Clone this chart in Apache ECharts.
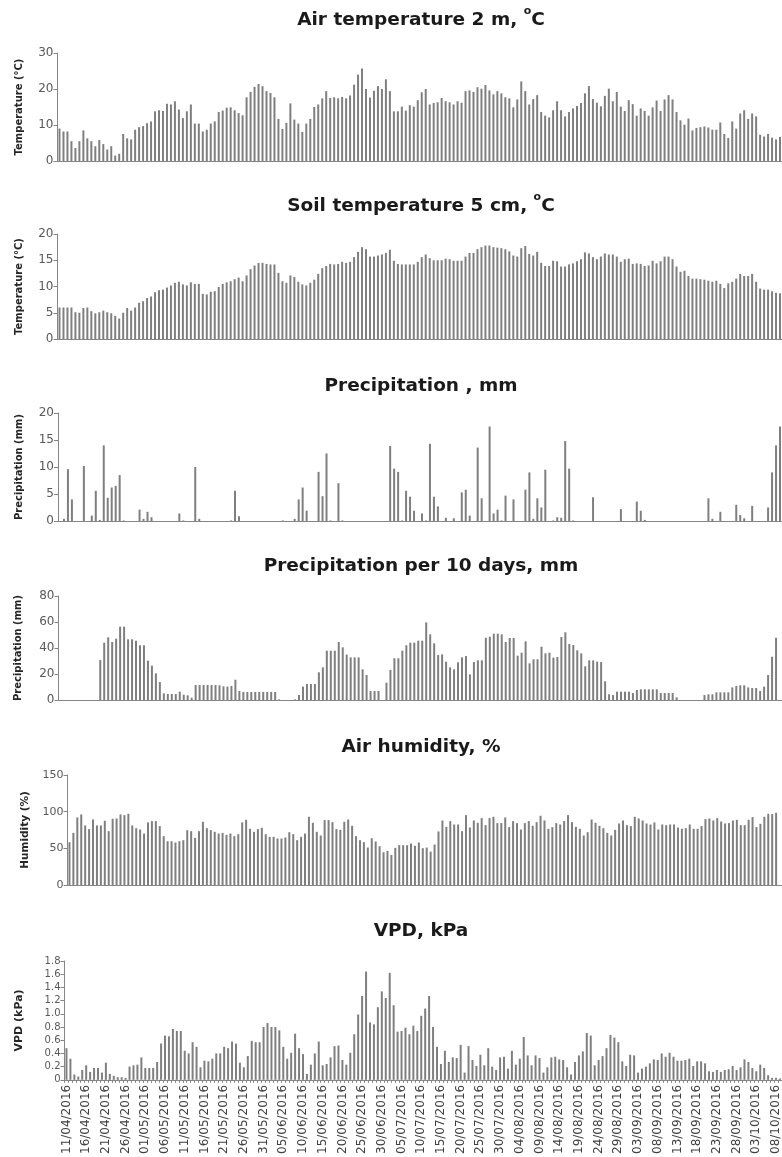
<!DOCTYPE html>
<html>

<head>
    <meta charset="utf-8" />
    <title>Weather 2016</title>
    <script src="https://cdn.jsdelivr.net/npm/echarts@6.0.0/dist/echarts.min.js"></script>
    <style>
        body { margin: 0; background: #ffffff; }
    </style>
</head>

<body>
    <div id="main" style="width: 782px; height: 1157px"></div>
    <script type="text/javascript">
        // days 11/04/2016 .. 09/10/2016
        var days = [];
        for (var d = 0; d < 182; d++) {
            var dt = new Date(2016, 3, 11 + d);
            var dd = ("0" + dt.getDate()).slice(-2);
            var mm = ("0" + (dt.getMonth() + 1)).slice(-2);
            days.push(dd + "/" + mm + "/" + dt.getFullYear());
        }

        var airTemp = [
            9.0, 8.2, 8.2, 5.5, 3.6, 5.5, 8.5, 6.3, 5.5, 4.1,
            5.8, 4.7, 3.2, 4.1, 1.5, 2.0, 7.5, 6.3, 6.0, 8.7,
            9.4, 9.7, 10.5, 11.0, 13.8, 14.1, 13.9, 15.9, 15.7, 16.6,
            14.3, 11.9, 13.8, 15.7, 10.4, 10.4, 8.2, 8.7, 10.4, 11.0,
            13.6, 14.0, 14.8, 14.9, 14.1, 13.3, 12.7, 17.7, 19.2, 20.6,
            21.4, 20.8, 19.4, 18.9, 17.7, 11.7, 8.9, 10.6, 16.0, 11.5,
            10.4, 8.1, 10.4, 11.7, 15.0, 15.7, 17.4, 19.4, 17.5, 17.7,
            17.4, 17.8, 17.4, 18.2, 21.2, 24.0, 25.7, 20.0, 17.6, 19.5,
            20.8, 20.0, 22.7, 19.4, 13.8, 13.8, 15.1, 14.0, 15.5, 15.1,
            16.9, 19.1, 20.0, 15.7, 16.1, 16.3, 17.5, 16.6, 16.3, 15.7,
            16.6, 16.2, 19.4, 19.6, 19.2, 20.5, 20.1, 21.1, 19.6, 18.5,
            19.4, 18.8, 17.7, 17.4, 14.9, 17.1, 22.1, 19.4, 15.7, 17.2,
            18.3, 13.6, 12.6, 12.1, 14.1, 16.6, 14.1, 12.4, 13.6, 14.6,
            15.3, 16.1, 18.8, 20.8, 17.2, 16.2, 15.2, 18.1, 20.1, 16.6,
            19.2, 15.1, 13.9, 16.9, 15.8, 12.6, 14.6, 13.9, 12.6, 14.9,
            16.8, 13.9, 17.1, 18.3, 17.1, 13.6, 11.3, 10.1, 11.8, 8.5,
            9.2, 9.4, 9.6, 9.3, 8.7, 8.7, 10.7, 7.5, 6.4, 11.0,
            9.0, 13.2, 14.1, 11.7, 13.2, 12.4, 7.3, 6.8, 7.5, 6.5,
            6.0, 6.7
        ];

        var soilTemp = [
            6.0, 6.0, 6.0, 6.0, 5.1, 5.0, 5.9, 6.0, 5.3, 4.9,
            5.1, 5.4, 5.1, 4.9, 4.4, 3.9, 5.0, 5.9, 5.4, 6.0,
            6.9, 7.2, 7.8, 8.1, 8.9, 9.3, 9.4, 9.8, 10.2, 10.7,
            10.9, 10.4, 10.2, 10.8, 10.5, 10.5, 8.6, 8.5, 9.0, 9.1,
            9.9, 10.5, 10.8, 11.0, 11.4, 11.7, 11.0, 12.1, 13.3, 14.0,
            14.5, 14.5, 14.3, 14.2, 14.2, 12.6, 11.0, 10.7, 12.1, 11.8,
            10.9, 10.4, 10.2, 10.7, 11.3, 12.4, 13.5, 13.9, 14.3, 14.2,
            14.3, 14.7, 14.5, 14.7, 15.6, 16.6, 17.5, 17.1, 15.7, 15.7,
            15.9, 16.1, 16.4, 17.0, 14.9, 14.3, 14.2, 14.2, 14.2, 14.2,
            14.7, 15.6, 16.1, 15.4, 15.0, 15.0, 15.0, 15.3, 15.2, 14.9,
            14.9, 14.9, 15.7, 16.4, 16.4, 17.1, 17.5, 17.8, 17.8, 17.5,
            17.4, 17.3, 17.1, 16.7, 15.9, 15.7, 17.3, 17.7, 16.2, 15.9,
            16.6, 14.5, 13.9, 13.9, 14.9, 14.8, 13.8, 13.8, 14.2, 14.4,
            14.8, 15.2, 16.5, 16.3, 15.6, 15.2, 15.7, 16.3, 16.1, 16.1,
            15.7, 14.7, 15.2, 15.3, 14.3, 14.4, 14.3, 13.9, 14.0, 14.9,
            14.4, 14.8, 15.7, 15.7, 15.2, 13.8, 12.8, 13.0, 12.0, 11.5,
            11.5, 11.4, 11.3, 11.1, 10.9, 11.1, 10.5, 9.7, 10.6, 10.9,
            11.5, 12.4, 12.0, 12.0, 12.4, 10.9, 9.6, 9.4, 9.4, 9.1,
            8.8, 8.7
        ];

        var precipDaily = [
            0, 0.4, 9.6, 4.0, 0, 0, 10.2, 0, 1.0, 5.6,
            0.2, 14.0, 4.3, 6.2, 6.5, 8.5, 0.1, 0, 0, 0,
            2.1, 0.4, 1.7, 0.7, 0, 0, 0, 0, 0, 0,
            1.4, 0.1, 0, 0, 10.0, 0.4, 0, 0, 0, 0,
            0, 0, 0, 0.1, 5.6, 0.9, 0, 0, 0, 0,
            0, 0, 0, 0, 0, 0, 0.1, 0, 0, 0.4,
            4.0, 6.2, 1.9, 0, 0, 9.1, 4.6, 12.5, 0.1, 0,
            7.0, 0.1, 0, 0, 0, 0, 0, 0, 0, 0,
            0, 0, 0, 13.9, 9.7, 9.1, 0.1, 5.6, 4.5, 1.9,
            0, 1.4, 0.1, 14.3, 4.5, 2.7, 0, 0.6, 0, 0.5,
            0, 5.3, 5.8, 1.0, 0, 13.6, 4.2, 0, 17.5, 1.4,
            2.1, 0.1, 4.7, 0, 4.0, 0, 0, 5.8, 9.0, 0.4,
            4.2, 2.5, 9.5, 0, 0.1, 0.7, 0.6, 14.8, 9.7, 0.1,
            0, 0, 0, 0, 4.4, 0, 0, 0, 0, 0,
            0, 2.2, 0, 0, 0, 3.6, 1.9, 0.2, 0, 0,
            0, 0, 0, 0, 0, 0, 0, 0, 0, 0,
            0, 0, 0, 4.2, 0.4, 0, 1.7, 0, 0, 0,
            3.0, 1.1, 0.5, 0, 2.8, 0, 0, 0, 2.5, 9.0,
            14.0, 17.5
        ];

        var precip10 = [
            0, 0, 0, 0, 0, 0, 0, 0, 0, 0,
            30.8, 44.1, 48.2, 44.6, 47.2, 56.4, 56.4, 46.7, 46.7, 45.6,
            42.1, 42.1, 30.3, 26.4, 20.5, 13.8, 5.1, 4.6, 4.6, 4.6,
            6.4, 4.1, 3.6, 1.8, 11.5, 11.5, 11.5, 11.5, 11.5, 11.5,
            11.3, 10.5, 10.3, 10.8, 15.6, 6.9, 6.2, 6.2, 6.2, 6.2,
            6.2, 6.2, 6.2, 6.2, 6.2, 0.5, 0, 0, 0, 0.5,
            3.8, 10.3, 12.3, 12.3, 12.3, 21.3, 25.1, 37.9, 37.9, 37.9,
            44.6, 40.5, 34.9, 32.8, 32.8, 32.8, 23.6, 19.2, 6.9, 6.9,
            6.9, 0, 13.3, 23.1, 32.1, 32.1, 37.9, 42.1, 44.1, 44.1,
            45.6, 45.6, 59.7, 50.5, 43.6, 34.6, 35.1, 29.5, 25.1, 23.6,
            29.0, 32.8, 33.8, 19.7, 29.2, 30.5, 30.5, 47.9, 48.7, 51.0,
            51.0, 50.5, 44.6, 47.7, 47.7, 34.1, 36.4, 45.1, 28.2, 31.3,
            31.3, 41.0, 35.9, 36.4, 32.6, 33.1, 48.5, 52.1, 43.1, 42.3,
            38.2, 35.9, 25.9, 30.5, 30.5, 29.5, 29.2, 14.4, 4.4, 3.8,
            6.4, 6.4, 6.4, 6.4, 5.4, 7.7, 8.2, 8.2, 8.2, 8.2,
            8.2, 5.4, 5.4, 5.4, 5.4, 2.1, 0, 0, 0, 0,
            0, 0, 3.8, 4.4, 4.4, 5.9, 5.9, 5.9, 5.9, 9.7,
            10.8, 11.3, 11.3, 9.7, 9.2, 9.2, 6.9, 10.3, 19.2, 33.3,
            47.9, 0
        ];

        var humidity = [
            58.4, 71.1, 92.1, 96.2, 81.2, 76.2, 89.4, 81.2, 81.2, 87.6,
            73.4, 90.3, 90.7, 96.2, 95.3, 97.1, 81.2, 77.5, 75.7, 70.2,
            85.3, 87.1, 87.1, 80.3, 66.6, 59.7, 59.7, 57.9, 59.7, 61.1,
            74.8, 73.4, 64.3, 73.4, 86.2, 77.5, 74.8, 72.5, 70.2, 71.1,
            68.4, 70.2, 66.6, 69.3, 85.3, 88.9, 76.6, 72.5, 76.2, 78.0,
            69.3, 65.7, 65.7, 63.4, 63.4, 64.8, 72.0, 69.3, 61.1, 65.7,
            70.2, 93.0, 84.8, 72.5, 67.5, 88.5, 88.5, 85.7, 76.2, 75.2,
            86.2, 89.4, 80.7, 66.6, 61.1, 58.4, 51.1, 63.8, 59.3, 52.9,
            44.7, 46.5, 41.0, 50.6, 54.3, 54.3, 54.3, 56.5, 53.4, 57.9,
            50.2, 51.1, 45.6, 55.2, 73.0, 88.0, 79.3, 87.1, 82.5, 82.5,
            73.4, 95.3, 78.4, 88.0, 84.8, 91.2, 81.6, 91.2, 93.0, 84.4,
            84.4, 92.1, 78.9, 87.1, 84.4, 75.7, 84.4, 87.1, 80.7, 85.7,
            94.4, 88.0, 76.6, 78.9, 84.4, 82.5, 87.1, 95.3, 85.7, 79.3,
            76.6, 67.5, 72.0, 89.4, 84.8, 80.7, 77.5, 71.1, 67.5, 75.2,
            83.9, 88.0, 81.6, 80.3, 93.0, 90.7, 88.0, 83.9, 82.5, 85.3,
            75.7, 82.5, 81.6, 82.5, 82.5, 78.4, 76.6, 77.5, 82.5, 76.6,
            76.6, 80.3, 89.8, 90.7, 88.0, 91.2, 86.6, 83.9, 84.4, 88.0,
            88.9, 81.6, 81.6, 88.9, 92.6, 78.9, 83.4, 93.0, 97.1, 96.7,
            98.5
        ];

        var vpd = [
            0.48, 0.32, 0.08, 0.05, 0.15, 0.22, 0.12, 0.18, 0.18, 0.11,
            0.26, 0.09, 0.06, 0.04, 0.04, 0.03, 0.20, 0.22, 0.23, 0.34,
            0.18, 0.18, 0.18, 0.27, 0.55, 0.67, 0.66, 0.77, 0.74, 0.74,
            0.44, 0.40, 0.57, 0.50, 0.19, 0.29, 0.28, 0.32, 0.40, 0.40,
            0.50, 0.48, 0.58, 0.55, 0.26, 0.19, 0.36, 0.59, 0.57, 0.57,
            0.80, 0.86, 0.80, 0.80, 0.75, 0.50, 0.32, 0.41, 0.70, 0.48,
            0.39, 0.09, 0.23, 0.40, 0.58, 0.22, 0.24, 0.34, 0.51, 0.52,
            0.30, 0.23, 0.41, 0.69, 0.99, 1.27, 1.64, 0.87, 0.84, 1.10,
            1.34, 1.24, 1.62, 1.13, 0.73, 0.74, 0.79, 0.69, 0.82, 0.74,
            0.97, 1.08, 1.27, 0.80, 0.50, 0.24, 0.44, 0.27, 0.34, 0.33,
            0.53, 0.11, 0.51, 0.30, 0.21, 0.38, 0.22, 0.48, 0.20, 0.15,
            0.34, 0.35, 0.17, 0.44, 0.23, 0.32, 0.65, 0.37, 0.22, 0.37,
            0.33, 0.11, 0.19, 0.34, 0.35, 0.31, 0.30, 0.19, 0.08, 0.27,
            0.37, 0.43, 0.71, 0.67, 0.22, 0.30, 0.36, 0.48, 0.68, 0.64,
            0.57, 0.28, 0.21, 0.38, 0.37, 0.11, 0.17, 0.20, 0.25, 0.31,
            0.30, 0.40, 0.35, 0.41, 0.35, 0.29, 0.29, 0.30, 0.32, 0.21,
            0.28, 0.28, 0.25, 0.13, 0.12, 0.15, 0.12, 0.15, 0.16, 0.21,
            0.15, 0.19, 0.31, 0.27, 0.18, 0.13, 0.23, 0.18, 0.07, 0.03,
            0.03, 0.02
        ];

        // one entry per panel (layout only)
        var panels = [
            { title: "{a|Air temperature 2 m, }{s|o}{a|C}", name: "Temperature (°C)", data: airTemp,
              max: 30, interval: 10, left: 57.5, top: 53, height: 108, width: 727,
              titleTop: 1, nameGap: 33, nameSize: 10, labelSize: 12 },
            { title: "{a|Soil temperature 5 cm, }{s|o}{a|C}", name: "Temperature (°C)", data: soilTemp,
              max: 20, interval: 5, left: 57.5, top: 234, height: 105, width: 727,
              titleTop: 187, nameGap: 33, nameSize: 10, labelSize: 12 },
            { title: "{a|Precipitation , mm}", name: "Precipitation (mm)", data: precipDaily,
              max: 20, interval: 5, left: 58, top: 413, height: 108, width: 727,
              titleTop: 367, nameGap: 34, nameSize: 10, labelSize: 12 },
            { title: "{a|Precipitation per 10 days, mm}", name: "Precipitation (mm)", data: precip10,
              max: 80, interval: 20, left: 58.5, top: 596, height: 104, width: 727,
              titleTop: 547, nameGap: 35, nameSize: 10, labelSize: 12 },
            { title: "{a|Air humidity, %}", name: "Humidity (%)", data: humidity,
              max: 150, interval: 50, left: 67.5, top: 775, height: 110, width: 721,
              titleTop: 728, nameGap: 37, nameSize: 10.5, labelSize: 11 },
            { title: "{a|VPD, kPa}", name: "VPD (kPa)", data: vpd,
              max: 1.8, interval: 0.2, left: 64.5, top: 961, height: 119, width: 719.5,
              titleTop: 912, nameGap: 40, nameSize: 11, labelSize: 10 }
        ];

        var titles = [], grids = [], xAxes = [], yAxes = [], series = [];
        panels.forEach(function (p, i) {
            var last = i == panels.length - 1;
            titles.push({
                text: p.title,
                left: 416,
                top: p.titleTop,
                textAlign: "center",
                textStyle: {
                    rich: {
                        a: { fontFamily: "DejaVu Sans", fontWeight: "bold", fontSize: 18.5, color: "#1a1a1a", lineHeight: 28 },
                        s: { fontFamily: "DejaVu Sans", fontWeight: "bold", fontSize: 11, color: "#1a1a1a", lineHeight: 28, verticalAlign: "top", padding: [0, 0, 10, 0] }
                    }
                }
            });
            grids.push({ left: p.left, top: p.top, height: p.height, width: p.width });
            xAxes.push({
                type: "category",
                gridIndex: i,
                data: days,
                axisLine: { lineStyle: { color: "#868686" } },
                axisTick: { show: last, interval: 0, length: 3, lineStyle: { color: "#868686" } },
                axisLabel: {
                    show: last,
                    interval: 4,
                    rotate: 90,
                    margin: 5,
                    fontFamily: "DejaVu Sans",
                    fontSize: 12,
                    color: "#404040"
                }
            });
            yAxes.push({
                type: "value",
                gridIndex: i,
                min: 0,
                max: p.max,
                interval: p.interval,
                name: p.name,
                nameLocation: "middle",
                nameGap: p.nameGap,
                nameTextStyle: { fontFamily: "DejaVu Sans", fontWeight: "bold", fontSize: p.nameSize, color: "#262626" },
                splitLine: { show: false },
                axisLine: { show: true, lineStyle: { color: "#868686" } },
                axisTick: { show: true, length: 4, lineStyle: { color: "#868686" } },
                axisLabel: {
                    margin: 4,
                    fontFamily: "DejaVu Sans",
                    fontSize: p.labelSize,
                    color: "#595959",
                    formatter: function (v) {
                        if (p.max < 5) {
                            return v == 0 ? "0" : v.toFixed(1);
                        }
                        return v;
                    }
                }
            });
            series.push({
                type: "bar",
                xAxisIndex: i,
                yAxisIndex: i,
                data: p.data,
                barWidth: 2,
                itemStyle: { color: "#7f7f7f" },
                silent: true
            });
        });

        var myChart = echarts.init(document.getElementById("main"));
        myChart.setOption({
            animation: false,
            backgroundColor: "#ffffff",
            title: titles,
            grid: grids,
            xAxis: xAxes,
            yAxis: yAxes,
            series: series
        });
    </script>
</body>

</html>
